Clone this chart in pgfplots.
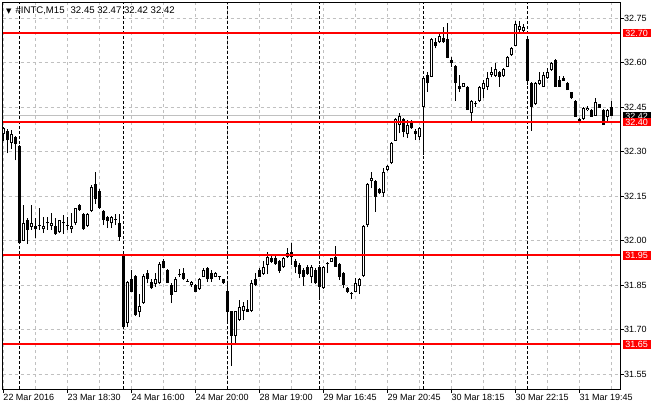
\documentclass[border=0pt]{standalone}
\usepackage{fontspec}
\setmainfont{Liberation Sans}
\newfontfamily\symfont{DejaVu Sans}
\usepackage{pgfplots}
\usepackage{pgfplotstable}
\pgfplotsset{compat=1.18}

\definecolor{mtgrid}{RGB}{192,192,192}
\definecolor{mtred}{RGB}{255,0,0}

% #INTC M15 bars: index, open, high, low, close
\pgfplotstableread{
x o h l c
0 32.358 32.383 32.336 32.378
1 32.370 32.376 32.295 32.338
2 32.328 32.373 32.309 32.359
3 32.349 32.352 32.270 32.326
4 32.320 32.322 31.988 31.991
5 31.999 32.120 31.997 32.058
6 32.069 32.076 31.988 32.036
7 32.047 32.120 32.036 32.059
8 32.049 32.076 32.009 32.038
9 32.049 32.110 32.036 32.049
10 32.038 32.079 32.025 32.049
11 32.058 32.079 32.036 32.058
12 32.049 32.093 32.036 32.059
13 32.049 32.076 32.019 32.021
14 32.028 32.069 32.025 32.069
15 32.058 32.086 32.022 32.058
16 32.049 32.079 32.036 32.049
17 32.038 32.093 32.025 32.049
18 32.058 32.110 32.052 32.109
19 32.120 32.123 32.100 32.103
20 32.089 32.093 32.036 32.038
21 32.049 32.093 32.045 32.089
22 32.100 32.187 32.096 32.181
23 32.191 32.230 32.123 32.139
24 32.167 32.174 32.106 32.109
25 32.100 32.103 32.052 32.069
26 32.080 32.083 32.042 32.066
27 32.058 32.083 32.042 32.080
28 32.069 32.089 32.052 32.069
29 32.060 32.089 31.999 32.013
30 31.948 31.951 31.705 31.708
31 31.721 31.864 31.708 31.859
32 31.870 31.901 31.827 31.828
33 31.882 31.884 31.746 31.749
34 31.760 31.820 31.741 31.780
35 31.789 31.887 31.787 31.881
36 31.890 31.901 31.856 31.869
37 31.861 31.869 31.836 31.839
38 31.853 31.890 31.845 31.869
39 31.856 31.928 31.853 31.920
40 31.931 31.938 31.907 31.909
41 31.901 31.904 31.857 31.858
42 31.850 31.857 31.789 31.817
43 31.828 31.878 31.827 31.869
44 31.884 31.903 31.878 31.884
45 31.890 31.907 31.867 31.869
46 31.861 31.870 31.860 31.861
47 31.850 31.863 31.845 31.861
48 31.850 31.853 31.826 31.828
49 31.836 31.875 31.834 31.869
50 31.878 31.907 31.877 31.901
51 31.909 31.912 31.861 31.869
52 31.890 31.901 31.861 31.869
53 31.878 31.894 31.877 31.890
54 31.878 31.878 31.867 31.878
55 31.869 31.870 31.855 31.856
56 31.831 31.854 31.722 31.760
57 31.763 31.764 31.577 31.678
58 31.678 31.763 31.655 31.763
59 31.733 31.800 31.729 31.777
60 31.763 31.794 31.733 31.780
61 31.769 31.800 31.759 31.760
62 31.763 31.867 31.759 31.858
63 31.869 31.890 31.846 31.850
64 31.901 31.907 31.877 31.878
65 31.887 31.932 31.884 31.912
66 31.918 31.963 31.887 31.946
67 31.942 31.948 31.926 31.929
68 31.942 31.948 31.918 31.920
69 31.931 31.934 31.890 31.898
70 31.910 31.945 31.908 31.940
71 31.946 31.974 31.941 31.957
72 31.963 31.993 31.918 31.944
73 31.932 31.938 31.890 31.910
74 31.918 31.925 31.873 31.887
75 31.901 31.907 31.847 31.878
76 31.912 31.918 31.884 31.887
77 31.878 31.918 31.856 31.910
78 31.901 31.907 31.853 31.856
79 31.912 31.918 31.800 31.845
80 31.839 31.914 31.836 31.910
81 31.921 31.929 31.890 31.921
82 31.929 31.942 31.928 31.940
83 31.946 31.982 31.911 31.912
84 31.920 31.924 31.867 31.878
85 31.890 31.894 31.839 31.850
86 31.839 31.844 31.822 31.828
87 31.820 31.828 31.802 31.820
88 31.828 31.874 31.827 31.858
89 31.847 31.874 31.820 31.869
90 31.881 32.052 31.877 32.049
91 32.052 32.194 32.045 32.190
92 32.201 32.232 32.176 32.210
93 32.201 32.204 32.097 32.148
94 32.173 32.177 32.156 32.159
95 32.159 32.243 32.148 32.232
96 32.238 32.254 32.234 32.251
97 32.260 32.332 32.258 32.330
98 32.337 32.413 32.336 32.409
99 32.389 32.429 32.361 32.420
100 32.409 32.413 32.348 32.367
101 32.358 32.406 32.345 32.389
102 32.397 32.406 32.376 32.378
103 32.369 32.375 32.339 32.358
104 32.348 32.383 32.339 32.378
105 32.451 32.551 32.288 32.547
106 32.558 32.569 32.502 32.531
107 32.552 32.683 32.551 32.679
108 32.670 32.682 32.648 32.657
109 32.668 32.698 32.666 32.689
110 32.684 32.721 32.666 32.668
111 32.679 32.732 32.614 32.616
112 32.609 32.617 32.586 32.597
113 32.588 32.591 32.470 32.531
114 32.522 32.558 32.500 32.511
115 32.518 32.531 32.517 32.530
116 32.518 32.521 32.440 32.440
117 32.429 32.473 32.403 32.470
118 32.459 32.470 32.451 32.459
119 32.470 32.522 32.467 32.518
120 32.511 32.541 32.479 32.530
121 32.518 32.569 32.507 32.547
122 32.558 32.586 32.551 32.569
123 32.556 32.597 32.551 32.578
124 32.569 32.572 32.518 32.552
125 32.556 32.581 32.551 32.578
126 32.586 32.622 32.585 32.618
127 32.625 32.652 32.622 32.648
128 32.657 32.740 32.655 32.729
129 32.710 32.740 32.702 32.724
130 32.706 32.729 32.702 32.721
131 32.679 32.690 32.524 32.539
132 32.530 32.534 32.370 32.451
133 32.459 32.534 32.457 32.530
134 32.528 32.567 32.524 32.541
135 32.518 32.567 32.517 32.558
136 32.547 32.580 32.545 32.567
137 32.575 32.602 32.572 32.597
138 32.609 32.612 32.517 32.518
139 32.541 32.556 32.517 32.518
140 32.549 32.556 32.537 32.539
141 32.532 32.534 32.507 32.507
142 32.500 32.501 32.477 32.480
143 32.470 32.474 32.417 32.418
144 32.410 32.414 32.403 32.403
145 32.410 32.451 32.406 32.448
146 32.440 32.452 32.435 32.448
147 32.440 32.444 32.417 32.418
148 32.421 32.481 32.420 32.468
149 32.459 32.461 32.447 32.448
150 32.440 32.444 32.389 32.389
151 32.418 32.444 32.403 32.440
152 32.450 32.470 32.420 32.420
}\intc

\begin{document}
\fontsize{9bp}{11bp}\selectfont
\begin{tikzpicture}
\useasboundingbox (-2.5bp,-21bp) rectangle (657.5bp,389bp);
\begin{axis}[
  scale only axis, width=617.5bp, height=386.5bp,
  at={(0,0)}, anchor=south west,
  xmin=-0.2, xmax=154.175, ymin=31.4998, ymax=32.8023,
  clip mode=individual,
  axis line style={black, line width=1bp},
  tick style={black, line width=0.8bp},
  tick align=outside, major tick length=4bp, minor tick length=0pt,
  xtick pos=left, ytick pos=right,
  xtick={0,16,32,48,64,80,96,112,128,144},
  xticklabels={22 Mar 2016, 23 Mar 18:30, 24 Mar 16:00, 24 Mar 20:00, 28 Mar 19:00, 29 Mar 16:45, 29 Mar 20:45, 30 Mar 18:15, 30 Mar 22:15, 31 Mar 19:45},
  minor xtick={8,24,40,56,72,88,104,120,136,152},
  ytick={31.55,31.70,31.85,32.00,32.15,32.30,32.45,32.60,32.75},
  scaled y ticks=false,
  tick label style={font=\fontsize{9bp}{11bp}\selectfont},
  xticklabel style={anchor=north west, inner sep=0pt, yshift=-1.5bp},
  yticklabel style={anchor=west, inner sep=0pt,
    /pgf/number format/fixed, /pgf/number format/fixed zerofill,
    /pgf/number format/precision=2, /pgf/number format/assume math mode=true},
  xmajorgrids, xminorgrids, ymajorgrids,
  major grid style={mtgrid, line width=1bp, dash pattern=on 3bp off 3bp},
  minor grid style={mtgrid, line width=1bp, dash pattern=on 3bp off 3bp},
  candle/.style={draw=none, mark=none, forget plot,
    error bars/.cd, y dir=plus, y explicit, error mark=none},
]
% day separators
\addplot[black, line width=1bp, dash pattern=on 3bp off 2bp] coordinates {(4,31.4) (4,32.9)};
\addplot[black, line width=1bp, dash pattern=on 3bp off 2bp] coordinates {(30,31.4) (30,32.9)};
\addplot[black, line width=1bp, dash pattern=on 3bp off 2bp] coordinates {(56,31.4) (56,32.9)};
\addplot[black, line width=1bp, dash pattern=on 3bp off 2bp] coordinates {(79,31.4) (79,32.9)};
\addplot[black, line width=1bp, dash pattern=on 3bp off 2bp] coordinates {(105,31.4) (105,32.9)};
\addplot[black, line width=1bp, dash pattern=on 3bp off 2bp] coordinates {(131,31.4) (131,32.9)};
% bid line
\addplot[mtgrid, line width=1bp] coordinates {(-0.2,32.42) (154.175,32.42)};
% wicks
\addplot[candle, error bar style={draw=black, line width=1bp}]
  table[x=x, y=l, y error plus expr={\thisrow{h}-\thisrow{l}}] {\intc};
% bodies
\addplot[candle, error bar style={draw=black, line width=3bp}]
  table[x=x, y expr={min(\thisrow{o},\thisrow{c})},
        y error plus expr={max(abs(\thisrow{c}-\thisrow{o}),0.0034)}] {\intc};
% hollow inside of bull bodies
\addplot[candle, error bar style={draw=white, line width=1bp}]
  table[x=x, y expr={\thisrow{o}+0.0034},
        y error plus expr={max(\thisrow{c}-\thisrow{o}-0.0068,0)}] {\intc};
% levels
\addplot[mtred, line width=2bp] coordinates {(-0.2,32.70) (154.175,32.70)};
\addplot[mtred, line width=2bp] coordinates {(-0.2,32.40) (154.175,32.40)};
\addplot[mtred, line width=2bp] coordinates {(-0.2,31.95) (154.175,31.95)};
\addplot[mtred, line width=2bp] coordinates {(-0.2,31.65) (154.175,31.65)};
% price labels
\tikzset{plabel/.style={anchor=west, xshift=2.5bp, inner xsep=2.75bp, inner ysep=1bp,
  text height=6.4bp, text depth=0pt, text=white, font=\fontsize{9bp}{11bp}\selectfont}}
\node[plabel, fill=black] at (axis cs:154.175,32.42) {32.42};
\node[plabel, fill=mtred] at (axis cs:154.175,32.70) {32.70};
\node[plabel, fill=mtred] at (axis cs:154.175,32.40) {32.40};
\node[plabel, fill=mtred] at (axis cs:154.175,31.95) {31.95};
\node[plabel, fill=mtred] at (axis cs:154.175,31.65) {31.65};
% title
\node[anchor=west, inner sep=0pt, xshift=3.5bp, yshift=-8bp] at (rel axis cs:0,1)
  {{\symfont\fontsize{7bp}{7bp}\selectfont ▼}\hspace{4bp}{\fontsize{9.6bp}{11bp}\selectfont\#INTC,M15\hspace{6bp}32.45 32.47 32.42 32.42}};
\end{axis}
\end{tikzpicture}
\end{document}
